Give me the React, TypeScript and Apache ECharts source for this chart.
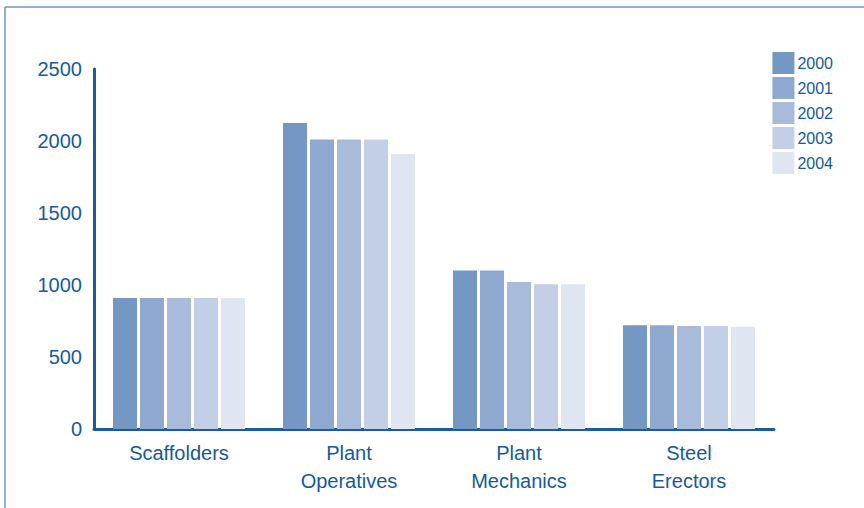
import React, { useEffect, useRef } from "react";
import * as echarts from "echarts";

const categories = ["Scaffolders", "Plant\nOperatives", "Plant\nMechanics", "Steel\nErectors"];
const years = ["2000", "2001", "2002", "2003", "2004"];
const s2000 = [910, 2125, 1100, 720];
const s2001 = [910, 2010, 1100, 720];
const s2002 = [910, 2010, 1020, 715];
const s2003 = [910, 2010, 1005, 715];
const s2004 = [910, 1910, 1005, 710];
const seriesValues = [s2000, s2001, s2002, s2003, s2004];
const colors = ["#7597c4", "#8fa8cf", "#a8bbdb", "#c3cfe6", "#dfe5f1"];
const yTicks = [0, 500, 1000, 1500, 2000, 2500];

const textColor = "#145a9c";
const font = "Liberation Sans, Arial, Helvetica, sans-serif";

export default function App() {
  const ref = useRef<HTMLDivElement>(null);
  useEffect(() => {
    if (!ref.current) return;
    const chart = echarts.init(ref.current, null, { renderer: "svg" });
    chart.setOption({
      animation: false,
      backgroundColor: "#ffffff",
      graphic: [
        { type: "line", shape: { x1: 5, y1: 7, x2: 864, y2: 7 }, style: { stroke: "#6f94c4", lineWidth: 1.5 } },
        { type: "line", shape: { x1: 5, y1: 7, x2: 5, y2: 508 }, style: { stroke: "#6f94c4", lineWidth: 1.5 } },
      ],
      legend: {
        orient: "vertical",
        right: 26,
        top: 47,
        itemWidth: 22,
        itemHeight: 22,
        itemGap: 3,
        icon: "rect",
        textStyle: { color: textColor, fontSize: 16, fontFamily: font, padding: [0, 0, 0, -2] },
        data: years,
      },
      grid: { left: 94, right: 90, top: 69, bottom: 79 },
      xAxis: {
        type: "category",
        data: categories,
        axisLine: { show: true, lineStyle: { color: "#1b5c9c", width: 3 } },
        axisTick: { show: false },
        axisLabel: {
          color: textColor,
          fontSize: 20,
          fontFamily: font,
          lineHeight: 28,
          margin: 10,
          interval: 0,
        },
      },
      yAxis: {
        type: "value",
        min: yTicks[0],
        max: yTicks[yTicks.length - 1],
        interval: 500,
        axisLine: { show: true, lineStyle: { color: "#1b5c9c", width: 3 } },
        axisTick: { show: false },
        splitLine: { show: false },
        axisLabel: {
          color: textColor,
          fontSize: 20,
          fontFamily: font,
          margin: 12,
          formatter: (v: number) => String(v),
        },
      },
      series: years.map((y, i) => ({
        name: y,
        type: "bar",
        data: seriesValues[i],
        barWidth: 24,
        barGap: "12.5%",
        itemStyle: { color: colors[i] },
      })),
    });
    return () => chart.dispose();
  }, []);
  return <div ref={ref} style={{ position: "absolute", left: 0, top: 0, width: 864, height: 508 }} />;
}
